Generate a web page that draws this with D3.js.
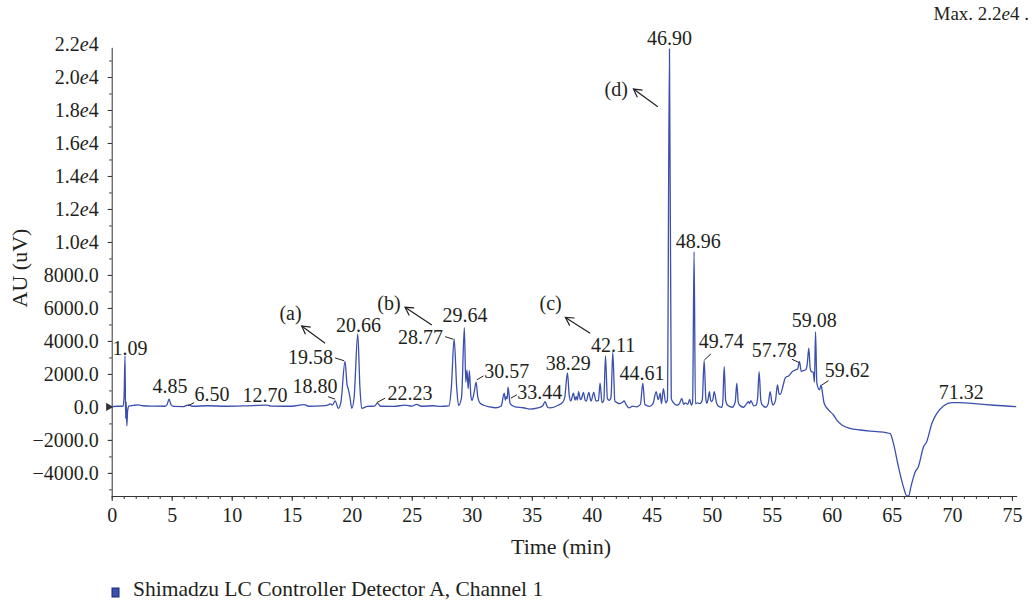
<!DOCTYPE html>
<html>
<head>
<meta charset="utf-8">
<script src="https://cdn.jsdelivr.net/npm/d3@7"></script>
<style>
  body { margin: 0; background: #fff; }
  svg { display: block; font-family: "Liberation Serif", "Times New Roman", serif; }
  .axis path, .axis line { stroke: #333; }
  .axis text { font-size: 20px; fill: #231f20; font-family: "Liberation Serif", serif; }
  .lbl { font-size: 20px; fill: #231f20; }
  .title { font-size: 22px; fill: #231f20; }
</style>
</head>
<body>
<svg id="chart" width="1036" height="601"></svg>
<script>
// chromatogram trace: retention time (min) and signal (uV)
const times = [0, 0.5, 0.95, 1.03, 1.11, 1.16, 1.21, 1.26, 1.33, 1.45, 1.8, 2.2, 2.6, 3.5, 4.45, 4.62, 4.78, 4.95, 5.15,
  6.0, 6.4, 6.7, 8.0, 9.5, 11.0, 12.9, 13.3, 15.0, 16.05, 16.4, 17.5, 18.0, 18.19, 18.4, 18.61, 18.89, 19.1, 19.44,
  19.6, 19.72, 19.85, 20.0, 20.2, 20.5, 20.68, 20.83, 21.3, 21.9, 22.14, 22.4, 23.5, 24.44, 25.0, 25.4, 25.8, 26.8,
  27.4, 28.1, 28.3, 28.53, 28.75, 28.9, 29.15, 29.38, 29.5, 29.6, 29.7, 29.8, 29.92, 30.02, 30.2, 30.36, 30.5, 30.7,
  31.0, 31.5, 32.0, 32.45, 32.7, 32.8, 32.86, 32.95, 33.02, 33.2, 33.6, 34.3, 34.86, 35.5, 35.9, 36.1, 36.3, 36.5,
  37.2, 37.6, 37.75, 37.97, 38.12, 38.25, 38.47, 38.6, 38.7, 38.8, 38.9, 39.05, 39.15, 39.3, 39.45, 39.55, 39.75,
  39.9, 39.95, 40.16, 40.35, 40.55, 40.69, 40.85, 41.0, 41.14, 41.3, 41.45, 41.6, 41.75, 41.92, 42.1, 42.3, 42.5,
  42.7, 42.85, 43.1, 43.4, 43.7, 44.05, 44.25, 44.42, 44.8, 45.1, 45.36, 45.5, 45.55, 45.7, 45.8, 45.97, 46.15, 46.3,
  46.47, 46.62, 46.8, 47.1, 47.3, 47.5, 47.65, 47.8, 48.0, 48.15, 48.3, 48.4, 48.52, 48.63, 48.8, 49.0, 49.2, 49.36,
  49.5, 49.58, 49.7, 49.8, 49.9, 50.0, 50.1, 50.2, 50.4, 50.6, 50.85, 50.92, 51.03, 51.15, 51.3, 51.7, 51.95, 52.08,
  52.2, 52.3, 52.65, 52.9, 53.05, 53.15, 53.25, 53.5, 53.7, 53.82, 53.94, 54.08, 54.2, 54.5, 54.7, 54.86, 55.0, 55.1,
  55.3, 55.47, 55.6, 55.7, 55.95, 56.1, 56.25, 56.4, 56.55, 56.7, 56.96, 57.15, 57.3, 57.45, 57.6, 57.8, 57.95, 58.08,
  58.2, 58.3, 58.45, 58.55, 58.64, 58.75, 58.97, 59.1, 59.22, 59.36, 59.72, 60.13, 60.4, 60.83, 61.5, 62.36, 63.75,
  64.5, 64.86, 65.13, 65.55, 65.97, 66.25, 66.4, 66.58, 66.94, 67.2, 67.64, 67.9, 68.33, 68.75, 69.3, 70.0, 70.7,
  72.1, 73.5, 75.36];
const signal = [20, 40, 40, 600, 3100, -700, 300, -1150, -200, 60, 90, 120, 70, 50, 40, 150, 470, 120, 30,
  20, 130, 40, 70, 40, 60, 110, 50, 40, 140, 40, 60, 110, 190, 120, 370, -90, 300, 2760,
  1400, 1050, 600, -90, 600, 4420, 1200, -90, 30, 50, 230, 40, 30, 110, 50, 150, 40, 70,
  30, 60, 1200, 4120, 1100, 90, 600, 4800, 1500, 2250, 1100, 2200, 700, 400, 900, 1500, 600, 220,
  100, 0, -50, 60, 830, 400, 630, 500, 1200, 200, 0, -50, -130, -60, 50, 320, 0, -60,
  100, 300, 600, 2060, 700, 360, 830, 420, 630, 420, 930, 450, 520, 880, 400, 360, 880,
  420, 360, 880, 360, 400, 1440, 260, 400, 3100, 500, 400, 600, 3300, 350, 260, 200, 250,
  360, 150, -60, 50, 0, 150, 1440, 150, 30, 200, 930, 500, 450, 830, 200, 1100, 250, 400,
  21700, 500, 260, 100, 200, 520, 150, 250, 150, 460, 100, 300, 9400, 200, 250, 200, 400, 2800,
  500, 220, 500, 930, 400, 330, 500, 930, 220, 20, -20, 400, 2440, 400, 120, -20, 300, 1440,
  300, 120, -20, 200, 320, 200, 380, 60, 120, 600, 2140, 400, 120, -20, 200, 930, 300, 120,
  380, 1330, 800, 760, 1330, 1740, 1840, 1880, 2000, 2140, 2240, 2300, 2750, 2150, 2200, 2240, 2600, 3560,
  2300, 2140, 2100, 1500, 4560, 1440, 1030, 1330, 830, 220, -180, -490, -790, -1100, -1300, -1400, -1500,
  -1560, -1620, -2210, -3640, -4860, -5400, -5400, -4860, -3940, -3640, -2420, -2110, -1000, -390, 60, 260, 260,
  180, 100, 20];

// peak labels: text, time and signal where the text sits
const peakText = ["1.09", "4.85", "6.50", "12.70", "18.80", "19.58", "20.66", "22.23", "28.77", "29.64", "30.57",
  "33.44", "38.29", "42.11", "44.61", "46.90", "48.96", "49.74", "57.78", "59.08", "59.62", "71.32"];
const peakTextT = [1.53, 4.86, 8.36, 12.78, 16.94, 16.57, 20.57, 24.86, 25.73, 29.44, 32.92,
  35.67, 38.03, 41.78, 44.19, 46.48, 48.86, 50.78, 55.19, 58.53, 61.28, 70.78];
const peakTextV = [3150, 850, 360, 300, 850, 2600, 4550, 420, 3820, 5170, 1760,
  480, 2240, 3350, 1640, 21940, 9640, 3580, 3050, 4850, 1820, 480];

// short leader lines [t1, v1, t2, v2]
const leaders = [
  [6.36, 60, 6.86, 260], [18.03, 620, 18.61, 470], [18.61, 2970, 19.36, 2800],
  [22.08, 260, 22.78, 530], [27.78, 4260, 28.47, 4100], [30.42, 1640, 30.97, 1880],
  [33.25, 530, 33.75, 730], [49.38, 2850, 49.92, 3210], [56.67, 2890, 57.3, 2680],
  [59.17, 1330, 59.72, 1590]
];

// fraction markers (a)-(d): label position, arrow tail and head
const fracText = ["(a)", "(b)", "(c)", "(d)"];
const fracPos = [[14.9, 5270], [23.1, 5880], [36.57, 5880], [42.03, 18850]];
const fracArrow = [
  [17.78, 3860, 15.83, 4910], [26.67, 4970, 24.44, 6040],
  [39.86, 4470, 37.8, 5420], [45.5, 18200, 43.47, 19270]
];

const xTicks = d3.range(0, 76, 5);
const yTicks = [-4000, -2000, 0, 2000, 4000, 6000, 8000, 10000, 12000, 14000, 16000, 18000, 20000, 22000];
const seriesName = "Shimadzu LC Controller Detector A, Channel 1";

const svg = d3.select("#chart");
const blue = "#3b4fae";
const ink = "#231f20";

const x = d3.scaleLinear().domain([0, 75.4]).range([111.7, 1016.7]);
const y = d3.scaleLinear().domain([-5400, 21800]).range([496, 47.3]);

// minor ticks
svg.append("g").attr("class", "axis")
  .attr("transform", "translate(0,496)")
  .call(d3.axisBottom(x).tickValues(d3.range(0, 76, 1)).tickSize(3).tickFormat(""))
  .call(g => g.select(".domain").remove());
svg.append("g").attr("class", "axis")
  .attr("transform", "translate(111.7,0)")
  .call(d3.axisLeft(y).tickValues(d3.range(-5000, 22000, 1000)).tickSize(2.5).tickFormat(""))
  .call(g => g.select(".domain").remove());

const xAxis = svg.append("g").attr("class", "axis")
  .attr("transform", "translate(0,496)")
  .call(d3.axisBottom(x).tickValues(xTicks).tickSize(5).tickSizeOuter(0).tickPadding(7));

const yAxis = svg.append("g").attr("class", "axis")
  .attr("transform", "translate(111.7,0)")
  .call(d3.axisLeft(y).tickValues(yTicks).tickSize(4).tickSizeOuter(0).tickPadding(9));

yAxis.selectAll(".tick").filter(d => d === 22000).select("line").remove();
yAxis.selectAll(".tick text").each(function (d) {
  const t = d3.select(this).text(null);
  if (Math.abs(d) >= 10000) {
    const m = (d / 10000).toFixed(1);
    t.append("tspan").text(m);
    t.append("tspan").attr("font-style", "italic").text("e");
    t.append("tspan").text("4");
  } else {
    t.text(d.toFixed(1).replace("-", "\u2212"));
  }
});

// zero marker on y axis
svg.append("path")
  .attr("d", d3.symbol(d3.symbolTriangle, 30)())
  .attr("transform", `translate(108.5,${y(0)}) rotate(90)`)
  .attr("fill", "#333");

svg.append("defs").append("clipPath").attr("id", "plot")
  .append("rect").attr("x", 111.7).attr("y", 30).attr("width", 906).attr("height", 466);

const line = d3.line()
  .x((d, i) => x(times[i]))
  .y(d => y(d))
  .curve(d3.curveMonotoneX);

svg.append("path")
  .datum(signal)
  .attr("clip-path", "url(#plot)")
  .attr("fill", "none")
  .attr("stroke", blue)
  .attr("stroke-width", 1.3)
  .attr("stroke-linejoin", "round")
  .attr("d", line);

// peak labels
svg.append("g").selectAll("text")
  .data(peakText)
  .join("text")
  .attr("class", "lbl")
  .attr("text-anchor", "middle")
  .attr("x", (d, i) => x(peakTextT[i]))
  .attr("y", (d, i) => y(peakTextV[i]))
  .text(d => d);

svg.append("g").selectAll("line")
  .data(leaders)
  .join("line")
  .attr("x1", d => x(d[0])).attr("y1", d => y(d[1]))
  .attr("x2", d => x(d[2])).attr("y2", d => y(d[3]))
  .attr("stroke", ink).attr("stroke-width", 1);

svg.select("defs").append("marker")
  .attr("id", "head")
  .attr("viewBox", "-10 -6 12 12")
  .attr("markerWidth", 12).attr("markerHeight", 12)
  .attr("markerUnits", "userSpaceOnUse")
  .attr("refX", 0).attr("refY", 0)
  .attr("orient", "auto")
  .append("path")
  .attr("d", "M-8,-4.5 L0,0 L-8,4.5")
  .attr("fill", "none").attr("stroke", ink).attr("stroke-width", 1.2);

svg.append("g").selectAll("line")
  .data(fracArrow)
  .join("line")
  .attr("x1", d => x(d[0])).attr("y1", d => y(d[1]))
  .attr("x2", d => x(d[2])).attr("y2", d => y(d[3]))
  .attr("stroke", ink).attr("stroke-width", 1.2)
  .attr("marker-end", "url(#head)");

svg.append("g").selectAll("text")
  .data(fracText)
  .join("text")
  .attr("class", "lbl")
  .attr("text-anchor", "middle")
  .attr("x", (d, i) => x(fracPos[i][0]))
  .attr("y", (d, i) => y(fracPos[i][1]))
  .text(d => d);

// axis titles
svg.append("text").attr("class", "title")
  .attr("x", 561).attr("y", 554)
  .attr("text-anchor", "middle")
  .text("Time (min)");

svg.append("text").attr("class", "title")
  .attr("transform", "translate(27,268) rotate(-90)")
  .attr("text-anchor", "middle")
  .text("AU (uV)");

// max note
const mx = svg.append("text").attr("class", "lbl")
  .style("font-size", "19px")
  .attr("x", 1029).attr("y", 20)
  .attr("text-anchor", "end");
mx.append("tspan").text("Max. 2.2");
mx.append("tspan").attr("font-style", "italic").text("e");
mx.append("tspan").text("4 .");

// legend
svg.append("rect")
  .attr("x", 112).attr("y", 588).attr("width", 7).attr("height", 9)
  .attr("fill", blue).attr("stroke", "#1c2a6e").attr("stroke-width", 1);
svg.append("text").attr("class", "lbl")
  .style("font-size", "21.5px")
  .attr("x", 133).attr("y", 596)
  .attr("dominant-baseline", "alphabetic")
  .text(seriesName);
</script>
</body>
</html>
